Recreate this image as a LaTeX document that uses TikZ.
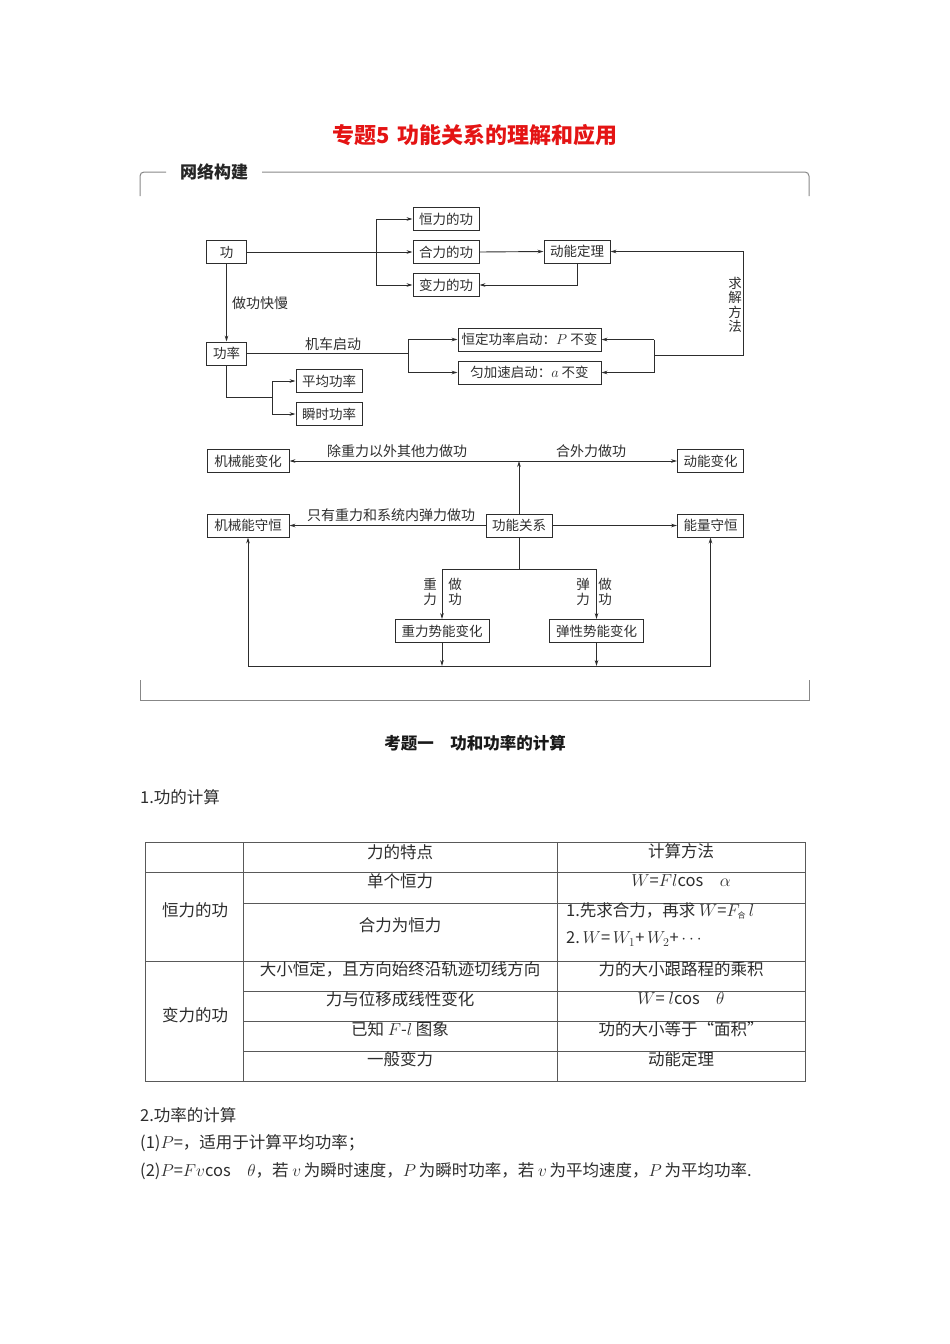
\documentclass[tikz,border=0pt]{standalone}
\usepackage{fontspec}
\setmainfont{Noto Sans CJK SC}
\usetikzlibrary{arrows.meta}
\definecolor{ttl}{RGB}{228,20,20}
\definecolor{frm}{RGB}{135,135,135}
\definecolor{ink}{RGB}{45,45,45}
\begin{document}
\begin{tikzpicture}[x=1pt,y=-1pt,
  box/.style={draw=ink, line width=1pt, minimum height=23pt, inner sep=0pt, font=\fontsize{13.5}{14}\selectfont, text=ink},
  ln/.style={draw=ink, line width=0.9pt},
  ar/.style={ln, -{Stealth[length=6pt,width=3.6pt]}},
  lbl/.style={inner sep=0pt, font=\fontsize{14}{14}\selectfont, text=ink},
  vl/.style={inner sep=0pt, align=center, font=\fontsize{13.5}{14.5}\selectfont, text=ink},
  tb/.style={inner sep=0pt, font=\fontsize{16.5}{17}\selectfont, text=ink},
  grd/.style={draw=black!65, line width=0.9pt}]
\useasboundingbox (0,0) rectangle (950,1344);

% title
\node[inner sep=0pt, font=\fontsize{22}{22}\selectfont\bfseries, text=ttl] (title) at (475,135) {专题5\hspace{7pt}功能关系的理解和应用};

% frame
\node[inner sep=0pt, font=\fontsize{17}{17}\selectfont\bfseries, text=black!85] (hdr) at (214,172) {网络构建};
\draw[draw=frm, line width=1pt, rounded corners=4pt] (140,196) -- (140,172) -- (166,172);
\draw[draw=frm, line width=1pt, rounded corners=4pt] (262,172) -- (809,172) -- (809,196);
\draw[draw=frm, line width=1pt] (140,680) -- (140,700) -- (809,700) -- (809,680);

% upper diagram
\node[box, minimum width=40pt] (gong) at (226.5,252) {功};
\node[box, minimum width=66pt] (hl) at (446,219) {恒力的功};
\node[box, minimum width=66pt] (hel) at (446,252) {合力的功};
\node[box, minimum width=66pt] (bl) at (446,285) {变力的功};
\node[box, minimum width=66pt] (dn) at (577,251.5) {动能定理};
\node[box, minimum width=40pt] (gl) at (226.5,353.5) {功率};
\node[box, minimum width=143pt] (hd) at (529.5,339.5) {恒定功率启动：$P$ 不变};
\node[box, minimum width=143pt] (yj) at (529.5,372.5) {匀加速启动：$a$ 不变};
\node[box, minimum width=66pt] (pj) at (329,381) {平均功率};
\node[box, minimum width=66pt] (ss) at (329,414) {瞬时功率};

\coordinate (b1) at (376,252);
\draw[ar] (gong.east) -- (hel.west);
\draw[ar] (b1) |- (hl.west);
\draw[ar] (b1) |- (bl.west);
\draw[ar] (hel.east) -- (dn.west);
\draw[ar] (dn.south) |- (bl.east);
\draw[ar] (gong.south) -- (gl.north);
\node[lbl] (kz) at (260,303) {做功快慢};

\coordinate (b2) at (408,355.5);
\draw[ln] (gl.east) -- (gl.east -| b2);
\node[lbl] (jc) at (333,344) {机车启动};
\draw[ar] (408,339.5) -- (hd.west);
\draw[ar] (408,372.5) -- (yj.west);
\draw[ln] (408,339.5) -- (408,372.5);

\coordinate (b3) at (654,355.5);
\coordinate (r1) at (743,355.5);
\draw[ln] (654,339.5) -- (654,372.5);
\draw[ar] (654,339.5) -- (hd.east);
\draw[ar] (654,372.5) -- (yj.east);
\draw[ar] (b3) -- (r1) |- (dn.east);
\node[vl] (qj) at (735,305) {求\\解\\方\\法};

\coordinate (p1) at (226.5,397);
\coordinate (b4) at (272,397);
\draw[ln] (gl.south) -- (p1) -- (b4);
\draw[ar] (b4) |- (pj.west);
\draw[ar] (b4) |- (ss.west);

% lower diagram
\node[box, minimum width=82pt] (jbh) at (248,461) {机械能变化};
\node[box, minimum width=66pt] (dbh) at (710.5,461) {动能变化};
\node[box, minimum width=66pt] (gn) at (519,525.5) {功能关系};
\node[box, minimum width=82pt] (jsh) at (248,525.5) {机械能守恒};
\node[box, minimum width=66pt] (nl) at (710.5,525.5) {能量守恒};

\coordinate (c1) at (519,461);
\draw[ar] (gn.north) -- (c1);
\draw[ar] (c1) -- (jbh.east);
\draw[ar] (c1) -- (dbh.west);
\node[lbl] (l1t) at (397,451) {除重力以外其他力做功};
\node[lbl] (l2t) at (591,451) {合外力做功};
\draw[ar] (gn.west) -- (jsh.east);
\node[lbl] (l3t) at (391,515) {只有重力和系统内弹力做功};
\draw[ar] (gn.east) -- (nl.west);

\node[box, minimum width=94pt] (zs) at (442,631) {重力势能变化};
\node[box, minimum width=94pt] (ts) at (596.5,631) {弹性势能变化};
\coordinate (c2) at (519,569.5);
\coordinate (c3) at (442,569.5);
\coordinate (c4) at (596.5,569.5);
\draw[ln] (gn.south) -- (c2);
\draw[ln] (c3) -- (c4);
\draw[ar] (c3) -- (zs.north);
\draw[ar] (c4) -- (ts.north);
\node[vl] (v1) at (430,592) {重\\力};
\node[vl] (v2) at (455,592) {做\\功};
\node[vl] (v3) at (583,592) {弹\\力};
\node[vl] (v4) at (605,592) {做\\功};

\coordinate (d1) at (442,666);
\coordinate (d2) at (596.5,666);
\coordinate (e1) at (248,666);
\coordinate (e2) at (710.5,666);
\draw[ar] (zs.south) -- (d1);
\draw[ar] (ts.south) -- (d2);
\draw[ln] (e1) -- (e2);
\draw[ar] (e1) -- (jsh.south);
\draw[ar] (e2) -- (nl.south);

% section
\node[inner sep=0pt, font=\fontsize{16.5}{17}\selectfont\bfseries, text=black!90] (sec) at (475,743) {考题一\quad 功和功率的计算};
\node[tb, anchor=west] (s1) at (140,797) {1.功的计算};

% table
\draw[grd] (145,842) rectangle (805,1081);
\draw[grd] (243,842) -- (243,1081);
\draw[grd] (557,842) -- (557,1081);
\draw[grd] (145,872) -- (805,872);
\draw[grd] (243,903) -- (805,903);
\draw[grd] (145,961) -- (805,961);
\draw[grd] (243,991) -- (805,991);
\draw[grd] (243,1021) -- (805,1021);
\draw[grd] (243,1051) -- (805,1051);

\node[tb] (t1) at (400,852) {力的特点};
\node[tb] (t2) at (681,851) {计算方法};
\node[tb] (t3) at (195,910) {恒力的功};
\node[tb] (t4) at (400,881) {单个恒力};
\node[tb] (t5) at (681,881) {$W$=$Fl$cos\quad$\alpha$};
\node[tb] (t6) at (400,925) {合力为恒力};
\node[tb, anchor=west] (t7) at (566,911) {1.先求合力，再求 $W$=$F_{\hbox{\fontsize{8}{8}\selectfont 合}}\,l$};
\node[tb, anchor=west] (t8) at (566,939) {2.\,$W$=\,$W_1$+\,$W_2$+\,$\cdots$};
\node[tb] (t9) at (195,1015) {变力的功};
\node[tb] (t10) at (400,969) {大小恒定，且方向始终沿轨迹切线方向};
\node[tb] (t11) at (681,969) {力的大小跟路程的乘积};
\node[tb] (t12) at (400,999) {力与位移成线性变化};
\node[tb] (t13) at (681,999) {$W$= $l$cos\quad$\theta$};
\node[tb] (t14) at (400,1029) {已知 $F$-$l$ 图象};
\node[tb] (t15) at (681,1029) {功的大小等于“面积”};
\node[tb] (t16) at (400,1059) {一般变力};
\node[tb] (t17) at (681,1059) {动能定理};

% bottom text
\node[tb, anchor=west] (u1) at (140,1115) {2.功率的计算};
\node[tb, anchor=west] (u2) at (140,1143) {(1)$P$=，适用于计算平均功率；};
\node[tb, anchor=west] (u3) at (140,1171) {(2)$P$=$Fv$cos\quad$\theta$，若 $v$\,为瞬时速度，$P$\,为瞬时功率，若 $v$\,为平均速度，$P$\,为平均功率.};
\end{tikzpicture}
\end{document}
